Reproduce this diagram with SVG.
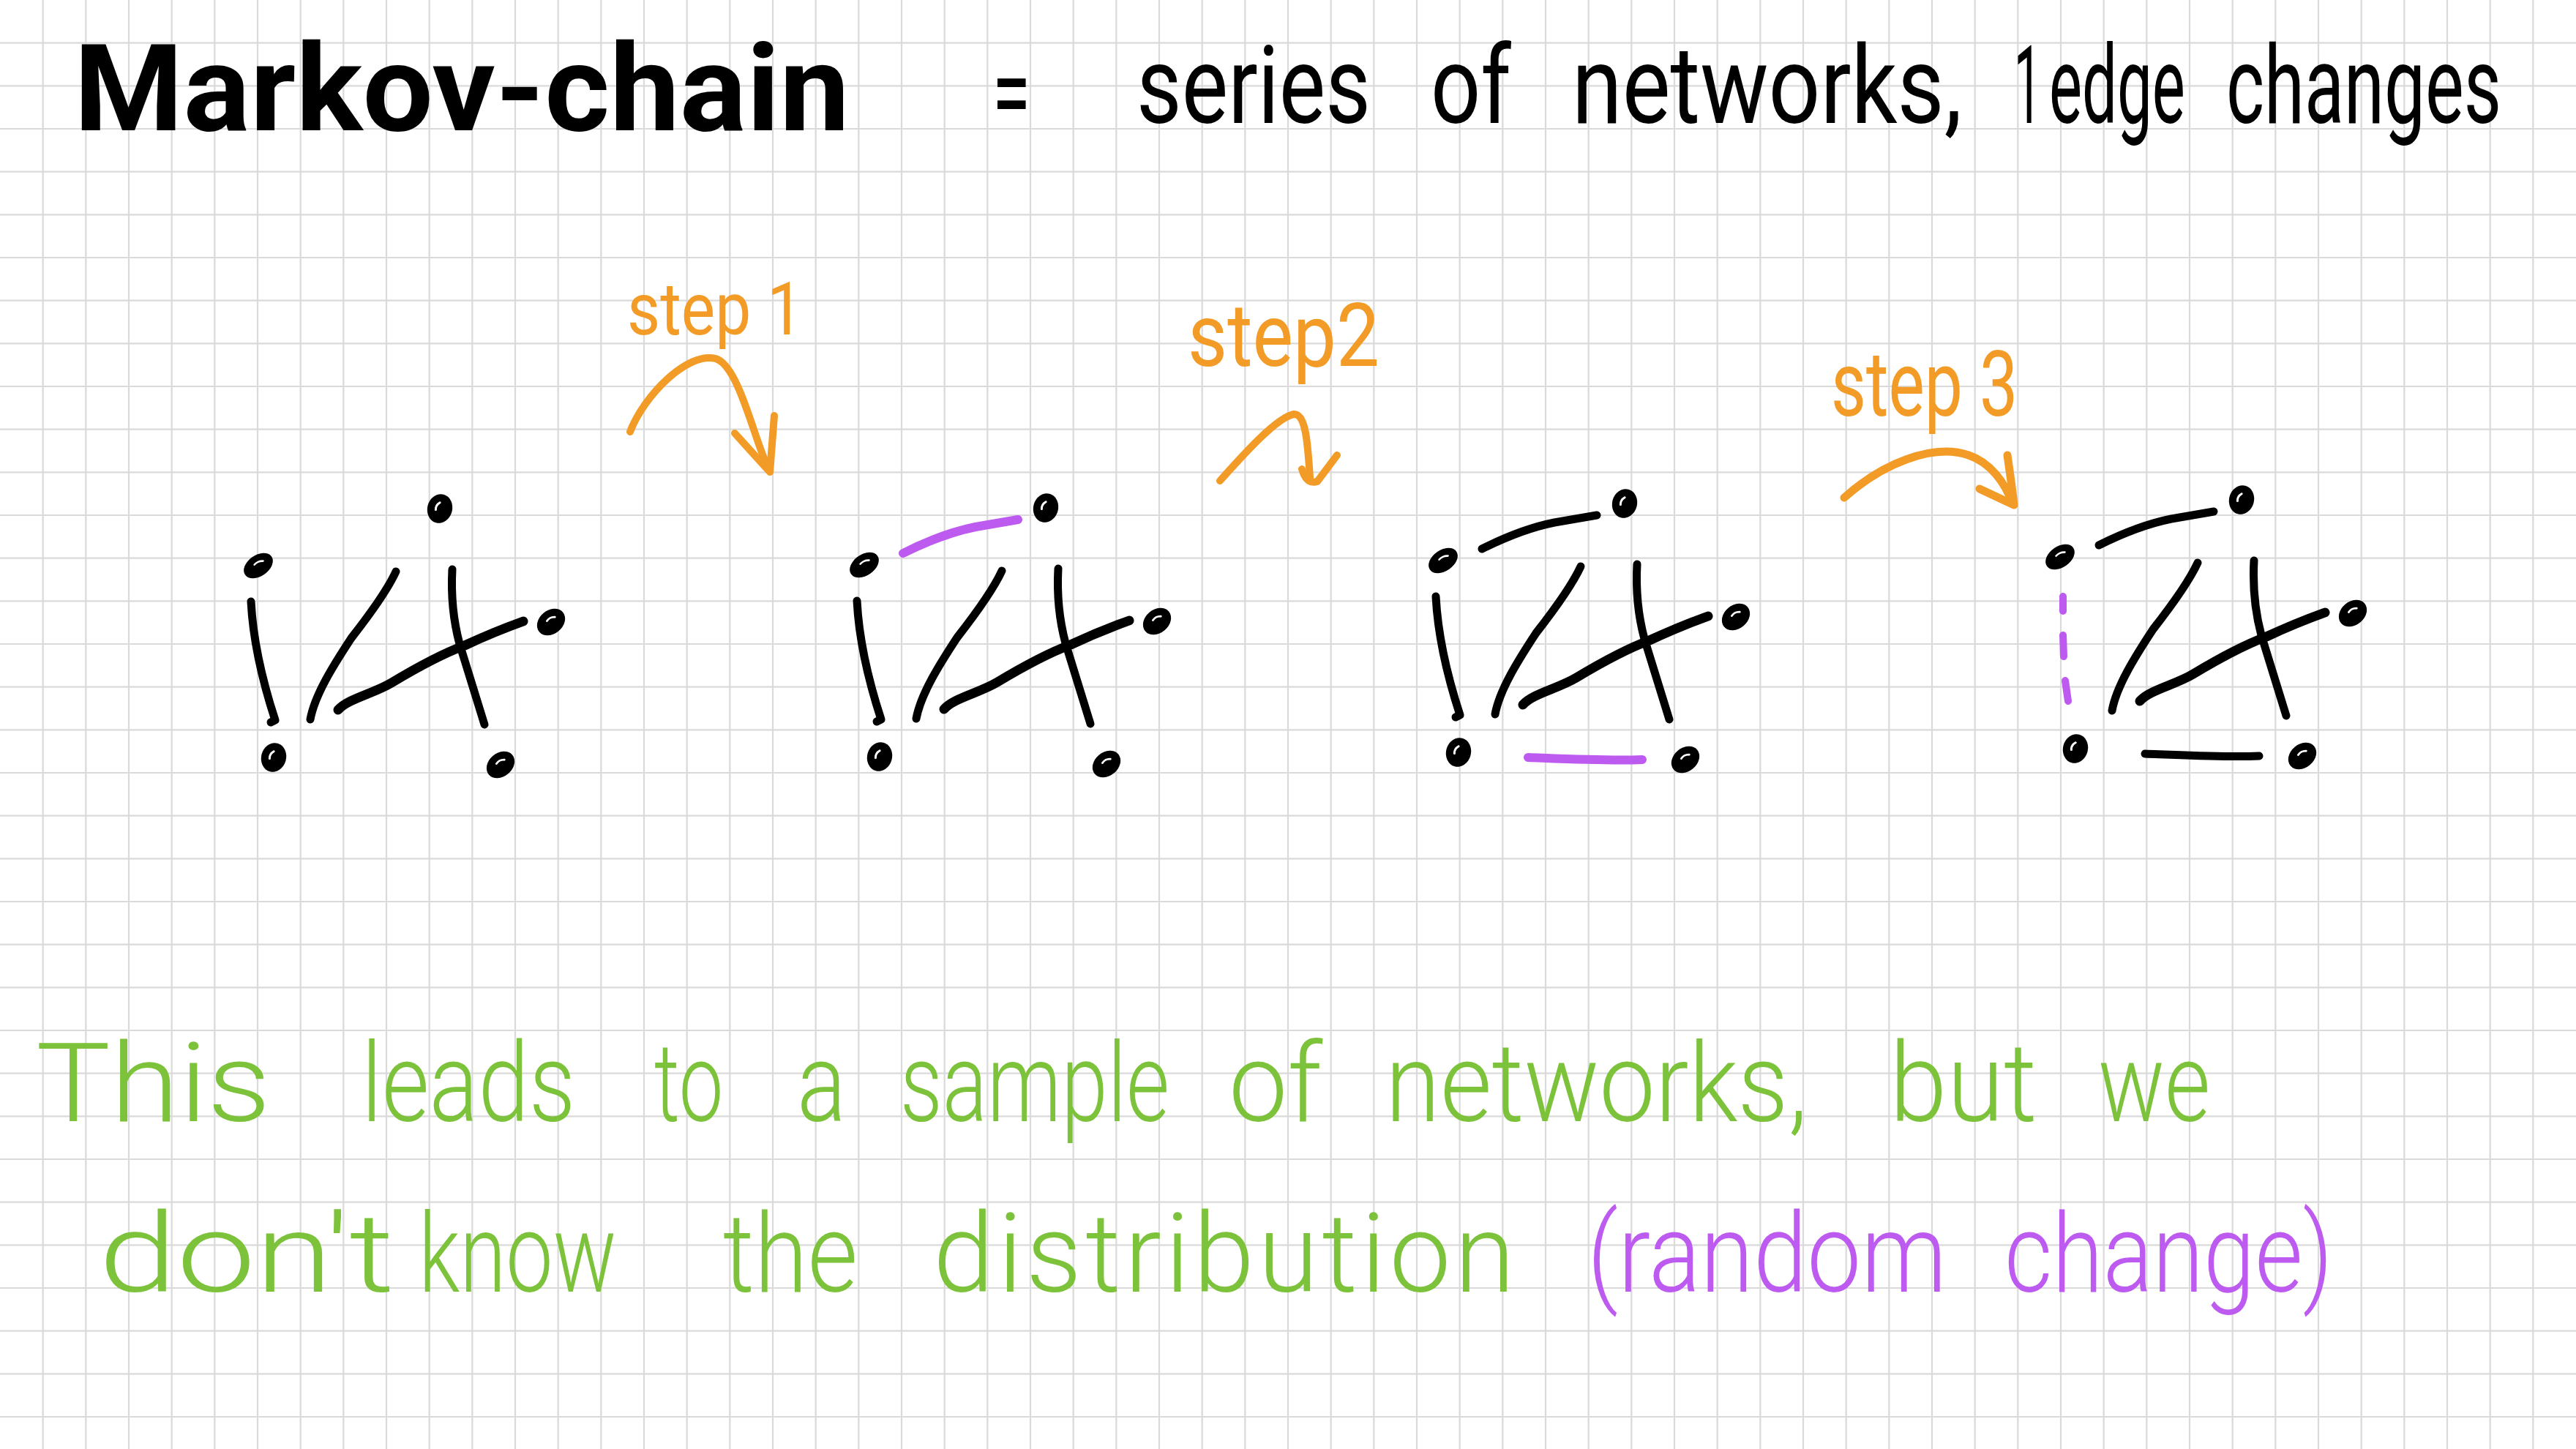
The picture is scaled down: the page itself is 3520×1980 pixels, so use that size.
<svg xmlns="http://www.w3.org/2000/svg" xmlns:xlink="http://www.w3.org/1999/xlink" width="3520" height="1980" viewBox="0 0 3520 1980">
<style>
.grid{fill:none;stroke:#dadada;stroke-width:2.2}
.ink{fill:none;stroke:#000;stroke-width:11;stroke-linecap:round;stroke-linejoin:round}
.wave{stroke-width:13}
.purple{fill:none;stroke:#bd5af0;stroke-width:12;stroke-linecap:round;stroke-linejoin:round}
.orange{fill:none;stroke:#f29b27;stroke-width:10;stroke-linecap:round;stroke-linejoin:round}
.hand{font-family:Roboto,"Liberation Sans",sans-serif}
.title{font-weight:700;fill:#000}
.sub{font-weight:400;fill:#000;font-size:148px}
.step{font-weight:400;fill:#f29b27}
.green{font-weight:300;fill:#7cc23a;font-size:150px}
.violet{font-weight:300;fill:#bd5af0;font-size:150px}
</style>
<defs>
<g id="dot">
<ellipse cx="0" cy="0" rx="17" ry="20" fill="#000"/>
<path d="M-2,-8 q-5,5 -3,11" fill="none" stroke="#fff" stroke-width="3" stroke-linecap="round"/>
</g>
<path id="eLeft" d="M343,822 C346,880 360,935 376,984 L370,987"/>
<path id="eDiag" d="M541,781 C530,805 505,840 480,872 C455,910 430,950 424,983"/>
<path id="eCross" d="M618,778 C616,815 620,850 628,880 L662,990"/>
<path id="eWave" d="M462,970 C475,955 510,948 535,933 C565,915 600,895 635,882 C665,868 690,858 715,849"/>
<path id="eTop" d="M406,757 C440,740 470,728 505,721 L563,711"/>
<path id="eBottom" d="M469,1042 C520,1044 580,1047 625,1045"/>
</defs>
<rect width="3520" height="1980" fill="#fff"/>
<path class="grid" d="M58.67 0V1980M117.33 0V1980M176 0V1980M234.67 0V1980M293.33 0V1980M352 0V1980M410.67 0V1980M469.33 0V1980M528 0V1980M586.67 0V1980M645.33 0V1980M704 0V1980M762.67 0V1980M821.33 0V1980M880 0V1980M938.67 0V1980M997.33 0V1980M1056 0V1980M1114.67 0V1980M1173.33 0V1980M1232 0V1980M1290.67 0V1980M1349.33 0V1980M1408 0V1980M1466.67 0V1980M1525.33 0V1980M1584 0V1980M1642.67 0V1980M1701.33 0V1980M1760 0V1980M1818.67 0V1980M1877.33 0V1980M1936 0V1980M1994.67 0V1980M2053.33 0V1980M2112 0V1980M2170.67 0V1980M2229.33 0V1980M2288 0V1980M2346.67 0V1980M2405.33 0V1980M2464 0V1980M2522.67 0V1980M2581.33 0V1980M2640 0V1980M2698.67 0V1980M2757.33 0V1980M2816 0V1980M2874.67 0V1980M2933.33 0V1980M2992 0V1980M3050.67 0V1980M3109.33 0V1980M3168 0V1980M3226.67 0V1980M3285.33 0V1980M3344 0V1980M3402.67 0V1980M3461.33 0V1980M0 58.67H3520M0 117.33H3520M0 176H3520M0 234.67H3520M0 293.33H3520M0 352H3520M0 410.67H3520M0 469.33H3520M0 528H3520M0 586.67H3520M0 645.33H3520M0 704H3520M0 762.67H3520M0 821.33H3520M0 880H3520M0 938.67H3520M0 997.33H3520M0 1056H3520M0 1114.67H3520M0 1173.33H3520M0 1232H3520M0 1290.67H3520M0 1349.33H3520M0 1408H3520M0 1466.67H3520M0 1525.33H3520M0 1584H3520M0 1642.67H3520M0 1701.33H3520M0 1760H3520M0 1818.67H3520M0 1877.33H3520M0 1936H3520"/>

<g id="title" class="hand">
<text class="title" x="101" y="178" font-size="165" textLength="1060" lengthAdjust="spacingAndGlyphs">Markov-chain</text>
<text class="sub" transform="translate(1356,178) scale(0.65,1)" font-size="150" textLength="80" lengthAdjust="spacingAndGlyphs">=</text>
<text class="sub" transform="translate(1553,168) scale(0.83,1)" textLength="385.5" lengthAdjust="spacingAndGlyphs">series</text>
<text class="sub" transform="translate(1955,168) scale(0.82,1)" textLength="134" lengthAdjust="spacingAndGlyphs">of</text>
<text class="sub" transform="translate(2148,168) scale(0.86,1)" textLength="620" lengthAdjust="spacingAndGlyphs">networks,</text>
<text class="sub" transform="translate(2752,168) scale(0.45,1)">1</text>
<text class="sub" transform="translate(2800,168) scale(0.59,1)" textLength="315" lengthAdjust="spacingAndGlyphs">edge</text>
<text class="sub" transform="translate(3042,168) scale(0.69,1)" textLength="545" lengthAdjust="spacingAndGlyphs">changes</text>
</g>

<g id="step-labels" class="hand">
<text class="step" transform="translate(857,457) scale(0.9,1)" font-size="100" textLength="267" lengthAdjust="spacingAndGlyphs">step 1</text>
<text class="step" transform="translate(1623,500) scale(0.9,1)" font-size="120" textLength="291" lengthAdjust="spacingAndGlyphs">step2</text>
<text class="step" transform="translate(2502,568) scale(0.76,1)" font-size="125" textLength="336" lengthAdjust="spacingAndGlyphs">step 3</text>
</g>

<g id="connectors">
<g id="step-arrows">
<path class="orange" d="M861,590 C880,540 940,480 978,490 C1010,500 1030,600 1050,640"/>
<path class="orange" d="M1004,592 L1052,645 L1058,568"/>
<path class="orange" d="M1667,657 C1700,620 1745,570 1768,566 C1785,565 1787,610 1790,652"/>
<path class="orange" d="M1779,641 Q1785,662 1800,658 L1827,622"/>
<path class="orange" style="stroke-width:11" d="M2520,680 C2570,635 2640,605 2690,622 C2720,632 2740,660 2750,688"/>
<path class="orange" style="stroke-width:11" d="M2743,622 C2747,650 2750,670 2752,690 L2705,668"/>
</g>
<g id="edges-net1">
<use xlink:href="#eLeft" class="ink"/>
<use xlink:href="#eDiag" class="ink"/>
<use xlink:href="#eCross" class="ink"/>
<use xlink:href="#eWave" class="ink wave"/>
</g>
<g id="edges-net2" transform="translate(828,-1)">
<use xlink:href="#eLeft" class="ink"/>
<use xlink:href="#eDiag" class="ink"/>
<use xlink:href="#eCross" class="ink"/>
<use xlink:href="#eWave" class="ink wave"/>
<use xlink:href="#eTop" class="purple"/>
</g>
<g id="edges-net3" transform="translate(1619,-7)">
<use xlink:href="#eLeft" class="ink"/>
<use xlink:href="#eDiag" class="ink"/>
<use xlink:href="#eCross" class="ink"/>
<use xlink:href="#eWave" class="ink wave"/>
<use xlink:href="#eTop" class="ink"/>
<use xlink:href="#eBottom" class="purple"/>
</g>
<g id="edges-net4" transform="translate(2462,-12)">
<use xlink:href="#eDiag" class="ink"/>
<use xlink:href="#eCross" class="ink"/>
<use xlink:href="#eWave" class="ink wave"/>
<use xlink:href="#eTop" class="ink"/>
<use xlink:href="#eBottom" class="ink"/>
</g>
<path class="purple" style="stroke-width:10" d="M2819,815 L2819,835 M2819,868 L2820,897 M2822,930 L2826,958"/>
</g>

<g id="net1">
<g id="n1-top"><use xlink:href="#dot" transform="translate(601,695) rotate(15)"/></g>
<g id="n1-lt"><use xlink:href="#dot" transform="translate(353,773) rotate(55) scale(0.85,1.1)"/></g>
<g id="n1-r"><use xlink:href="#dot" transform="translate(753,850) rotate(50) scale(0.95,1.05)"/></g>
<g id="n1-bl"><use xlink:href="#dot" transform="translate(374,1035) rotate(15)"/></g>
<g id="n1-br"><use xlink:href="#dot" transform="translate(684,1045) rotate(50) scale(0.95,1.05)"/></g>
</g>
<g id="net2">
<g id="n2-top"><use xlink:href="#dot" transform="translate(1429,694) rotate(15)"/></g>
<g id="n2-lt"><use xlink:href="#dot" transform="translate(1181,772) rotate(55) scale(0.85,1.1)"/></g>
<g id="n2-r"><use xlink:href="#dot" transform="translate(1581,849) rotate(50) scale(0.95,1.05)"/></g>
<g id="n2-bl"><use xlink:href="#dot" transform="translate(1202,1034) rotate(15)"/></g>
<g id="n2-br"><use xlink:href="#dot" transform="translate(1512,1044) rotate(50) scale(0.95,1.05)"/></g>
</g>
<g id="net3">
<g id="n3-top"><use xlink:href="#dot" transform="translate(2220,688) rotate(15)"/></g>
<g id="n3-lt"><use xlink:href="#dot" transform="translate(1972,766) rotate(55) scale(0.85,1.1)"/></g>
<g id="n3-r"><use xlink:href="#dot" transform="translate(2372,843) rotate(50) scale(0.95,1.05)"/></g>
<g id="n3-bl"><use xlink:href="#dot" transform="translate(1993,1028) rotate(15)"/></g>
<g id="n3-br"><use xlink:href="#dot" transform="translate(2303,1038) rotate(50) scale(0.95,1.05)"/></g>
</g>
<g id="net4">
<g id="n4-top"><use xlink:href="#dot" transform="translate(3063,683) rotate(15)"/></g>
<g id="n4-lt"><use xlink:href="#dot" transform="translate(2815,761) rotate(55) scale(0.85,1.1)"/></g>
<g id="n4-r"><use xlink:href="#dot" transform="translate(3215,838) rotate(50) scale(0.95,1.05)"/></g>
<g id="n4-bl"><use xlink:href="#dot" transform="translate(2836,1023) rotate(15)"/></g>
<g id="n4-br"><use xlink:href="#dot" transform="translate(3146,1033) rotate(50) scale(0.95,1.05)"/></g>
</g>

<g id="conclusion" class="hand">
<text class="green" x="49" y="1532" textLength="321" lengthAdjust="spacingAndGlyphs">This</text>
<text class="green" transform="translate(494,1532) scale(0.83,1)" textLength="352" lengthAdjust="spacingAndGlyphs">leads</text>
<text class="green" transform="translate(894,1532) scale(0.72,1)" textLength="131" lengthAdjust="spacingAndGlyphs">to</text>
<text class="green" transform="translate(1089,1532) scale(0.82,1)" textLength="82" lengthAdjust="spacingAndGlyphs">a</text>
<text class="green" transform="translate(1230,1532) scale(0.77,1)" textLength="478" lengthAdjust="spacingAndGlyphs">sample</text>
<text class="green" transform="translate(1679,1532) scale(0.94,1)" textLength="136" lengthAdjust="spacingAndGlyphs">of</text>
<text class="green" transform="translate(1893,1532) scale(0.92,1)" textLength="627" lengthAdjust="spacingAndGlyphs">networks,</text>
<text class="green" transform="translate(2582,1532) scale(0.96,1)" textLength="210" lengthAdjust="spacingAndGlyphs">but</text>
<text class="green" transform="translate(2867,1532) scale(0.82,1)" textLength="187" lengthAdjust="spacingAndGlyphs">we</text>
<text class="green" x="135" y="1765" textLength="404" lengthAdjust="spacingAndGlyphs">don't</text>
<text class="green" transform="translate(572,1765) scale(0.77,1)" textLength="351" lengthAdjust="spacingAndGlyphs">know</text>
<text class="green" transform="translate(988,1765) scale(0.89,1)" textLength="207" lengthAdjust="spacingAndGlyphs">the</text>
<text class="green" x="1275" y="1765" textLength="795" lengthAdjust="spacing">distribution</text>
<text class="violet" transform="translate(2169,1765) scale(0.88,1)" textLength="558" lengthAdjust="spacingAndGlyphs">(random</text>
<text class="violet" transform="translate(2739,1765) scale(0.85,1)" textLength="528" lengthAdjust="spacingAndGlyphs">change)</text>
</g>
</svg>
